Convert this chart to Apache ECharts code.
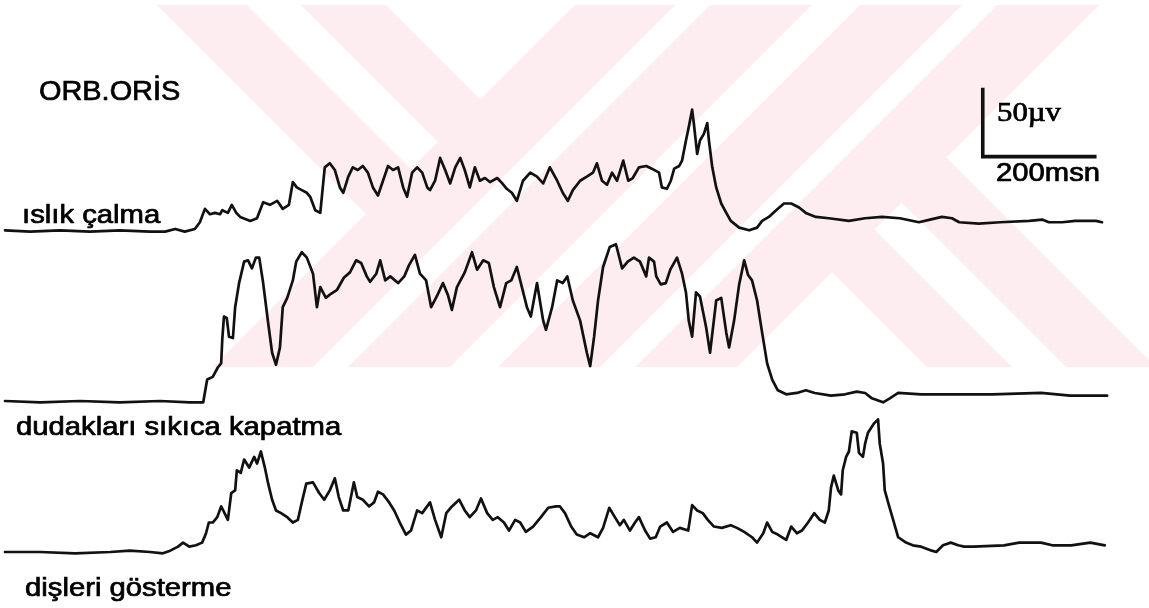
<!DOCTYPE html>
<html lang="tr">
<head>
<meta charset="utf-8">
<title>ORB.ORİS EMG</title>
<script src="https://cdn.jsdelivr.net/npm/echarts@6/dist/echarts.min.js"></script>
<style>
  html, body { margin: 0; padding: 0; background: #ffffff; }
  #chart { width: 1149px; height: 608px; }
</style>
</head>
<body>
<div id="chart"></div>
<script>
// Rectified EMG envelopes of m. orbicularis oris, [time ms, amplitude µV]
const islikCalma = [
  [0,0],[45,-1],[98,0],[152,-1],[205,0],[259,-1],[286,-1],[304,1],[321,-1],[339,1],
  [348,6],[357,16],[366,12],[375,13],[384,12],[388,15],[398,13],[405,19],[413,13],[420,10],
  [438,7],[450,9],[461,21],[473,19],[486,22],[496,16],[507,19],[514,36],[521,32],[530,30],
  [539,28],[545,25],[554,15],[563,13],[571,47],[580,50],[589,45],[598,32],[604,28],[613,40],
  [621,47],[630,45],[639,48],[648,43],[657,32],[666,26],[675,37],[684,48],[693,45],[702,47],
  [711,32],[718,25],[727,43],[736,47],[745,43],[754,32],[759,30],[768,37],[777,54],[786,45],
  [795,35],[804,47],[813,54],[821,45],[830,32],[839,47],[848,37],[857,39],[866,36],[879,39],
  [888,35],[896,31],[905,28],[914,22],[925,37],[938,43],[950,40],[961,35],[973,47],[986,37],
  [996,28],[1005,22],[1014,30],[1027,37],[1039,40],[1050,43],[1057,50],[1066,37],[1075,34],[1084,43],
  [1093,37],[1104,52],[1113,37],[1121,39],[1132,47],[1145,48],[1155,46],[1168,43],[1173,32],[1182,31],
  [1189,37],[1195,46],[1204,48],[1209,52],[1216,67],[1221,77],[1227,90],[1230,80],[1236,57],[1241,67],
  [1248,72],[1254,80],[1257,67],[1263,47],[1270,32],[1279,20],[1288,13],[1296,7],[1311,2],[1329,0],
  [1343,2],[1352,7],[1364,10],[1377,15],[1391,20],[1404,20],[1418,17],[1430,13],[1448,10],[1471,9],
  [1507,7],[1536,9],[1566,10],[1598,9],[1632,6],[1652,8],[1673,10],[1691,9],[1704,6],[1739,5],
  [1777,6],[1829,7],[1852,8],[1864,6],[1888,6],[1911,7],[1948,7],[1959,6]
];

const dudaklariKapatma = [
  [0,0],[63,-1],[134,0],[205,-1],[277,0],[330,-1],[348,-1],[354,-1],[361,16],[371,18],
  [380,25],[386,28],[388,46],[391,63],[396,62],[400,48],[407,47],[411,70],[418,88],[427,104],
  [434,105],[441,99],[448,107],[454,107],[461,88],[470,58],[477,36],[484,27],[491,40],[496,70],
  [504,77],[514,90],[520,104],[530,111],[539,107],[550,95],[557,70],[563,85],[573,77],[582,80],
  [593,83],[605,92],[616,96],[627,105],[636,103],[646,93],[652,89],[663,95],[670,105],[679,90],
  [688,93],[702,88],[713,93],[721,101],[732,109],[741,95],[752,90],[761,70],[771,78],[782,88],
  [791,79],[798,68],[807,85],[821,96],[834,111],[843,98],[854,105],[864,103],[873,85],[884,70],
  [895,88],[904,90],[914,100],[923,85],[932,70],[939,63],[950,88],[961,60],[966,53],[977,70],
  [986,90],[996,88],[1004,93],[1014,75],[1027,60],[1039,36],[1045,26],[1052,48],[1059,75],[1068,100],
  [1080,115],[1091,117],[1102,99],[1112,104],[1123,107],[1134,104],[1145,93],[1150,107],[1159,104],[1163,93],
  [1171,87],[1180,88],[1188,98],[1200,107],[1209,95],[1216,81],[1221,60],[1227,48],[1234,81],[1241,78],
  [1252,55],[1259,36],[1270,75],[1279,77],[1288,51],[1293,40],[1302,60],[1311,87],[1320,105],[1327,94],
  [1334,90],[1343,75],[1352,51],[1361,28],[1370,16],[1380,8],[1395,5],[1414,6],[1430,8],[1446,6],
  [1475,4],[1500,5],[1521,7],[1536,6],[1548,2],[1568,-1],[1580,2],[1595,6],[1636,5],[1705,5],
  [1763,5],[1850,6],[1902,4],[1968,4]
];

const disleriGosterme = [
  [0,0],[63,0],[125,-1],[188,0],[223,1],[259,0],[282,-1],[295,1],[309,4],[318,7],
  [329,4],[341,5],[352,7],[359,14],[364,22],[371,22],[379,26],[386,34],[391,30],[398,24],
  [404,44],[411,46],[414,61],[421,59],[427,69],[436,63],[445,71],[450,66],[457,75],[464,63],
  [470,51],[477,39],[484,31],[493,29],[504,26],[514,22],[523,24],[530,37],[538,51],[550,52],
  [561,44],[570,39],[580,46],[589,55],[596,41],[604,31],[613,31],[623,52],[629,41],[639,39],
  [650,34],[659,37],[666,45],[675,43],[686,37],[695,31],[705,22],[716,13],[725,16],[736,31],
  [745,29],[759,37],[768,24],[779,11],[788,29],[798,34],[811,39],[821,31],[830,26],[841,31],
  [850,40],[861,29],[871,24],[880,26],[891,22],[900,16],[911,24],[920,22],[930,15],[943,19],
  [957,26],[970,33],[984,34],[991,34],[1000,29],[1011,19],[1021,13],[1034,11],[1045,14],[1059,11],
  [1068,18],[1079,33],[1089,26],[1098,20],[1105,24],[1116,16],[1125,22],[1132,26],[1143,16],[1152,10],
  [1162,11],[1170,19],[1182,22],[1193,15],[1205,18],[1220,16],[1227,35],[1236,31],[1246,29],[1255,24],
  [1266,19],[1280,18],[1296,20],[1307,18],[1320,15],[1334,11],[1343,7],[1354,14],[1361,22],[1370,15],
  [1380,13],[1395,9],[1404,19],[1414,14],[1423,16],[1434,22],[1445,29],[1455,24],[1464,22],[1471,31],
  [1475,48],[1480,57],[1488,46],[1493,43],[1496,61],[1502,71],[1507,75],[1512,90],[1521,89],[1525,74],
  [1532,71],[1536,81],[1541,89],[1552,96],[1559,99],[1562,81],[1568,66],[1571,46],[1579,34],[1586,24],
  [1595,11],[1609,7],[1621,5],[1636,4],[1655,1],[1663,0],[1675,5],[1689,7],[1702,5],[1713,4],
  [1729,4],[1784,5],[1811,7],[1850,7],[1870,5],[1904,5],[1938,7],[1964,5]
];

// Calibration bar: 50 µV vertical, 200 ms horizontal
const scaleBarTime = [1746, 1746, 1946];
const scaleBarAmp = [105, 55, 55];

const muscleName = 'ORB.ORİS';
const traceNames = ['ıslık çalma', 'dudakları sıkıca kapatma', 'dişleri gösterme'];
const scaleBarLabels = ['50µv', '200msn'];

// ---- layout ----
const PX_PER_UV = 1.34;          // 50 µV = 67 px
const PLOT_LEFT = 5, PLOT_WIDTH = 1120;  // 0..2000 ms
const panels = [
  { base: 230.3, min: -10, max: 110 },
  { base: 401.0, min: -10, max: 120 },
  { base: 552.0, min: -10, max: 110 }
];

const grids = panels.map(p => ({
  left: PLOT_LEFT, width: PLOT_WIDTH,
  top: p.base - p.max * PX_PER_UV,
  height: (p.max - p.min) * PX_PER_UV
}));
const xAxes = panels.map((p, i) => ({
  type: 'value', gridIndex: i, min: 0, max: 2000, show: false
}));
const yAxes = panels.map((p, i) => ({
  type: 'value', gridIndex: i, min: p.min, max: p.max, show: false
}));

const traceStyle = { color: '#111', width: 2.7, join: 'round', cap: 'round' };
const traces = [islikCalma, dudaklariKapatma, disleriGosterme].map((d, i) => ({
  type: 'line', name: traceNames[i], xAxisIndex: i, yAxisIndex: i,
  data: d, symbol: 'none', showSymbol: false, clip: false, silent: true,
  lineStyle: traceStyle, z: 5
}));

const scaleBar = {
  type: 'line', name: 'kalibrasyon', xAxisIndex: 0, yAxisIndex: 0,
  data: scaleBarTime.map((t, i) => [t, scaleBarAmp[i]]),
  symbol: 'none', clip: false, silent: true, z: 5,
  lineStyle: { color: '#111', width: 3.6, join: 'miter', cap: 'square' }
};

// ---- faint background emblem (diagonal bands) ----
const PINK = '#fdedf0';
const band = pts => ({ type: 'polygon', silent: true, z: -10,
  shape: { points: pts }, style: { fill: PINK } });
const emblem = [
  // bands rising to the right
  band([[575,5],[675,5],[313,367],[213,367]]),
  band([[710,5],[812,5],[450,367],[348,367]]),
  band([[860,5],[962,5],[600,367],[498,367]]),
  band([[997,5],[1099,5],[737,367],[635,367]]),
  // upper-left bands falling to the right
  band([[157,5],[247,5],[426,184],[381,229]]),
  band([[301,5],[386,5],[495.5,114.5],[453,157]]),
  // lower-right bands falling to the right
  band([[927,367],[1012,367],[860,215],[817.5,257.5]]),
  band([[1066,367],[1156,367],[932,143],[887,188]])
];

const label = (text, x, y, font, scaleX) => ({
  type: 'text', x: x, y: y, scaleX: scaleX, z: 20, silent: true,
  style: { text: text, font: font, fill: '#000', stroke: '#000', lineWidth: 0.7,
           textAlign: 'left', textVerticalAlign: 'middle', verticalAlign: 'middle' }
});
const SANS = '"Liberation Sans", Arial, sans-serif';
const SERIF = '"Liberation Serif", "Times New Roman", serif';
const labels = [
  label(muscleName, 39, 92.6, '27px ' + SANS, 1.07),
  label(traceNames[0], 22, 216.3, '25px ' + SANS, 1.17),
  label(traceNames[1], 16, 428.3, '25px ' + SANS, 1.17),
  label(traceNames[2], 25, 589.3, '25px ' + SANS, 1.17),
  label(scaleBarLabels[0], 997, 113.9, '27px ' + SERIF, 1.14),
  label(scaleBarLabels[1], 996, 174.3, '25px ' + SANS, 1.17)
];

const chart = echarts.init(document.getElementById('chart'), null, { renderer: 'canvas' });
chart.setOption({
  backgroundColor: '#ffffff',
  animation: false,
  grid: grids,
  xAxis: xAxes,
  yAxis: yAxes,
  series: traces.concat([scaleBar]),
  graphic: { elements: emblem.concat(labels) }
});
</script>
</body>
</html>
